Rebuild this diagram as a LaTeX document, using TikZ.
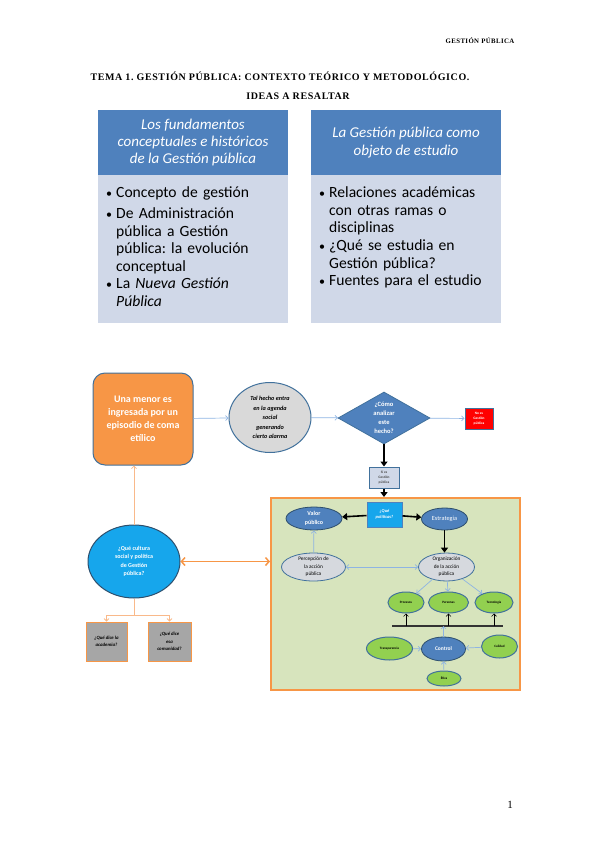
\documentclass[tikz,border=0pt]{standalone}
\usepackage{fontspec}
\setmainfont{Carlito}
\newfontfamily\docfont[LetterSpace=6]{Liberation Serif}
\usetikzlibrary{arrows.meta,positioning,calc,shapes.geometric}

\definecolor{hdrblue}{HTML}{4F81BD}
\definecolor{bodyblue}{HTML}{D0D8E8}
\definecolor{edgeblue}{HTML}{41719C}
\definecolor{lineblue}{HTML}{8EB4E3}
\definecolor{orng}{HTML}{F79646}
\definecolor{lorng}{HTML}{F9B98A}
\definecolor{cyanblue}{HTML}{16A6EC}
\definecolor{framegreen}{HTML}{D7E4BD}
\definecolor{leafgreen}{HTML}{92D050}
\definecolor{boxgray}{HTML}{A6A6A6}
\definecolor{lgray}{HTML}{D9D9D9}

\frenchspacing
\newcommand{\bitem}[1]{\par\noindent\makebox[10pt][l]{\raisebox{0.5pt}{\fontsize{12}{12}\selectfont\textbullet}}\parbox[t]{170pt}{\raggedright #1}}
\newcommand{\nitem}[1]{\par\vspace{3.5pt}\bitem{#1}}

\begin{document}
\begin{tikzpicture}[
  x=1pt, y=-1pt,
  hdr/.style={fill=hdrblue, text=white, align=center, inner sep=0pt, minimum width=190pt, minimum height=65pt, font=\fontsize{15}{17.3}\selectfont\itshape},
  body/.style={fill=bodyblue, inner sep=0pt, minimum width=190pt, minimum height=148pt},
  bodytxt/.style={text width=182pt, inner sep=0pt, font=\fontsize{15.6}{17.5}\selectfont},
  mnrbox/.style={draw=edgeblue, line width=1pt, fill=orng, rounded corners=12pt, text=white, align=center, minimum width=100pt, minimum height=92pt, inner sep=0pt, font=\fontsize{10}{13}\selectfont\bfseries},
  agendell/.style={ellipse, draw=edgeblue, line width=1pt, fill=lgray, align=center, inner sep=0pt, minimum width=82pt, minimum height=70pt, font=\fontsize{6.2}{9.5}\selectfont\bfseries\itshape},
  decision/.style={diamond, aspect=1.8, draw=edgeblue, line width=0.8pt, fill=hdrblue, text=white, align=center, inner sep=0pt, minimum width=92pt, minimum height=52pt, font=\fontsize{6.5}{9}\selectfont\bfseries},
  smallbox/.style={rectangle, draw=edgeblue, line width=1pt, align=center, inner sep=0pt, font=\fontsize{3.5}{5}\selectfont\bfseries},
  blueell/.style={ellipse, draw=edgeblue!70!black, line width=0.8pt, fill=hdrblue, text=white, align=center, inner sep=0pt, font=\fontsize{6}{8.5}\selectfont\bfseries},
  greyell/.style={ellipse, draw=edgeblue, line width=0.8pt, fill=lgray!70!bodyblue, align=center, inner sep=0pt, font=\fontsize{5.3}{7.5}\selectfont},
  leaf/.style={ellipse, draw=edgeblue, line width=1pt, fill=leafgreen, align=center, inner sep=0pt, font=\fontsize{3.3}{4}\selectfont\bfseries},
  askbox/.style={rectangle, draw=orng, line width=0.8pt, fill=boxgray, align=center, inner sep=0pt, font=\fontsize{4.8}{7.5}\selectfont\bfseries\itshape},
  thinarr/.style={draw=lineblue, line width=0.7pt, -{Straight Barb[length=2.5pt,width=5pt]}},
  thinboth/.style={draw=lineblue, line width=0.7pt, {Straight Barb[length=2.5pt,width=5pt]}-{Straight Barb[length=2.5pt,width=5pt]}},
  blkarr/.style={draw=black, line width=2.2pt, -{Triangle[length=5pt,width=7pt]}},
  tinyarr/.style={draw=black, line width=0.6pt, -{Straight Barb[length=2.5pt,width=5pt]}},
  oarr/.style={draw=lorng, line width=0.8pt, -{Straight Barb[length=2.5pt,width=5pt]}},
  obiarr/.style={draw=orng, line width=1.5pt, {Straight Barb[length=3.5pt,width=8pt]}-{Straight Barb[length=3.5pt,width=8pt]}}
]
\useasboundingbox (0,0) rectangle (599,848);

% ---------- Page head and title ----------
\node[font=\docfont\fontsize{6.8}{8}\selectfont\bfseries] (runhead) at (480,41) {GESTIÓN PÚBLICA};
\node[font=\docfont\fontsize{10}{12}\selectfont\bfseries] (title1) at (280,76) {TEMA 1. GESTIÓN PÚBLICA: CONTEXTO TEÓRICO Y METODOLÓGICO.};
\node[font=\docfont\fontsize{10}{12}\selectfont\bfseries] (title2) at (298,96) {IDEAS A RESALTAR};

% ---------- Two summary boxes ----------
\node[hdr] (lhdr) at (193,142.5) {Los fundamentos\\ conceptuales e históricos\\ de la Gestión pública};
\node[body] (lbody) at (193,249) {};
\node[bodytxt, anchor=north west] (ltxt) at (106,180)
  {\bitem{Concepto de gestión}
   \nitem{De Administración\\ pública a Gestión\\ pública: la evolución\\ conceptual}
   \nitem{La \textit{Nueva Gestión\\ Pública}}};
\node[hdr] (rhdr) at (406,142.5) {La Gestión pública como\\ objeto de estudio};
\node[body] (rbody) at (406,249) {};
\node[bodytxt, anchor=north west] (rtxt) at (319,180)
  {\bitem{Relaciones académicas\\ con otras ramas o\\ disciplinas}
   \nitem{¿Qué se estudia en\\ Gestión pública?}
   \nitem{Fuentes para el estudio}};

% ---------- Flow of the case ----------
\node[mnrbox] (menor) at (143,419) {Una menor es\\ ingresada por un\\ episodio de coma\\ etílico};
\node[agendell] (agenda) at (270,417.5) {Tal hecho entra\\ en la agenda\\ social\\ generando\\ cierto alarma};
\node[decision] (analiz) at (384,418) {¿Cómo\\ analizar\\ este\\ hecho?};
\node[smallbox, fill=red, text=white, minimum width=28pt, minimum height=21pt] (nogp) at (479,418.5) {No es\\ Gestión\\ pública};
\node[smallbox, fill=bodyblue, text=black!70, minimum width=30pt, minimum height=21pt] (sigp) at (384,477.5) {Sí es\\ Gestión\\ pública};

\draw[thinarr] (menor) -- (agenda);
\draw[thinarr] (agenda) -- (analiz);
\draw[thinarr] (analiz) -- (nogp);
\draw[blkarr] (analiz) -- (sigp);

% ---------- Public management frame ----------
\node[draw=orng, line width=2pt, fill=framegreen, minimum width=249pt, minimum height=192pt, inner sep=0pt] (marco) at (395.5,594) {};
\draw[blkarr] (sigp) -- (sigp |- marco.north);

\node[smallbox, draw=hdrblue, fill=cyanblue, text=white, minimum width=35pt, minimum height=25pt, font=\fontsize{4.5}{6}\selectfont\bfseries\itshape] (polit) at (384.5,514.5) {¿Qué\\ políticas?};
\node[blueell, minimum width=56pt, minimum height=23pt] (valor) at (314,518.5) {Valor\\ público};
\node[blueell, minimum width=46pt, minimum height=22pt, font=\fontsize{6.3}{8}\selectfont] (estrat) at (444.5,519) {Estrategia};
\node[greyell, minimum width=64pt, minimum height=28pt] (percep) at (313.5,567) {Percepción de\\ la acción\\ pública};
\node[greyell, minimum width=56pt, minimum height=28pt] (organ) at (446.5,567) {Organización\\ de la acción\\ pública};

\draw[blkarr, line width=1.6pt] (polit) -- (valor);
\draw[blkarr, line width=1.6pt] (polit) -- (estrat);
\draw[blkarr, line width=1.6pt] (estrat.south) -- (estrat.south |- organ.north);
\draw[thinarr] (percep) -- (valor);
\draw[thinboth] (percep) -- (organ);

\node[leaf, minimum width=36pt, minimum height=21pt] (proc) at (406,602.5) {Procesos};
\node[leaf, minimum width=40pt, minimum height=21pt] (pers) at (448.5,602.5) {Personas};
\node[leaf, minimum width=38pt, minimum height=21pt] (tecn) at (494,602.5) {Tecnología};
\draw[thinarr] (organ) -- (proc);
\draw[thinarr] (organ) -- (pers);
\draw[thinarr] (organ) -- (tecn);

\coordinate (barL) at (392,626);
\coordinate (barR) at (503,626);
\draw[black!80, line width=2pt] (barL) -- (barR);
\draw[tinyarr] (barL -| proc.south) -- (proc.south);
\draw[tinyarr] (barL -| pers.south) -- (pers.south);
\draw[tinyarr] (barL -| tecn.south) -- (tecn.south);

\node[blueell, minimum width=44pt, minimum height=24pt, font=\fontsize{5.5}{7}\selectfont\bfseries] (ctrl) at (443.5,649) {Control};
\node[leaf, minimum width=46pt, minimum height=23pt] (transp) at (389.5,648.5) {Transparencia};
\node[leaf, minimum width=36pt, minimum height=23pt] (calid) at (499.5,646.5) {Calidad};
\node[leaf, minimum width=34pt, minimum height=15pt] (etica) at (444,678.5) {Ética};
\draw[thinarr] (ctrl) -- (ctrl |- barL);
\draw[thinarr] (transp) -- (ctrl);
\draw[thinarr] (calid) -- (ctrl);
\draw[thinarr] (etica) -- (ctrl);

% ---------- Social culture branch ----------
\node[ellipse, draw=edgeblue!70!black, line width=1pt, fill=cyanblue, text=white, align=center, inner sep=0pt, minimum width=92pt, minimum height=73pt, font=\fontsize{6}{8.3}\selectfont\bfseries] (cultura) at (134,561.5) {¿Qué cultura\\ social y política\\ de Gestión\\ pública?};
\node[askbox, minimum width=41pt, minimum height=39pt] (acad) at (106.5,641.5) {¿Qué dice la\\ academia?};
\node[askbox, minimum width=43pt, minimum height=39pt] (comun) at (169.5,641.5) {¿Qué dice\\ esa\\ comunidad?};
\coordinate (rama) at (134,615);

\draw[oarr] (cultura) -- (cultura.north |- menor.south);
\draw[obiarr] (cultura) -- (cultura -| marco.west);
\draw[oarr] (cultura.south) -- (rama) -| (acad.north);
\draw[oarr] (rama) -| (comun.north);

% ---------- Page number ----------
\node[font=\docfont\fontsize{11}{13}\selectfont] (pnum) at (510,805) {1};
\end{tikzpicture}
\end{document}
